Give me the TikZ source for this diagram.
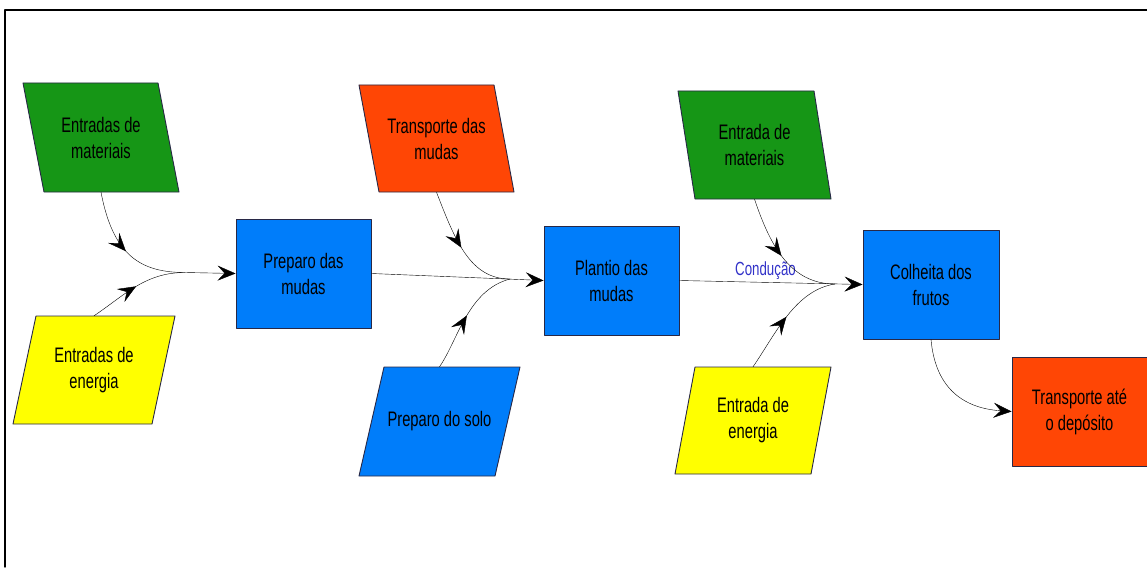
\documentclass[tikz,border=0pt]{standalone}
\usepackage{fontspec}
\setmainfont{Liberation Sans}[FakeStretch=0.7]
\usetikzlibrary{arrows.meta,decorations.markings}
\definecolor{verde}{RGB}{22,150,22}
\definecolor{amarelo}{RGB}{255,255,0}
\definecolor{azul}{RGB}{0,125,250}
\definecolor{laranja}{RGB}{255,70,5}
\definecolor{borda}{RGB}{40,40,70}
\definecolor{conducao}{RGB}{50,50,200}
\tikzset{
  caixa/.style={draw=borda, line width=0.9pt, minimum width=135pt, minimum height=109pt,
    inner sep=0pt, align=center, text=black},
  meio/.style={postaction={decorate}, decoration={markings,
    mark=at position 0.5 with {\arrow{Stealth[length=18pt,width=15pt,inset=7pt]}}}}
}
% paralelogramo: nome, x, y, largura, altura, desvio, cor, texto
\newcommand{\paralelo}[8]{%
  \filldraw[fill=#7, draw=borda, line width=0.9pt]
    (#2-#4/2-#6/2, #3-#5/2) -- (#2+#4/2-#6/2, #3-#5/2) --
    (#2+#4/2+#6/2, #3+#5/2) -- (#2-#4/2+#6/2, #3+#5/2) -- cycle;
  \node (#1) [minimum width=#4pt, minimum height=#5pt, inner sep=0pt, align=center] at (#2,#3) {#8};
}
\begin{document}
\begin{tikzpicture}[x=1pt, y=-1pt, font=\fontsize{21}{26}\selectfont, line join=round, line cap=round,
  >={Stealth[length=18pt,width=15pt,inset=7pt]}]
\useasboundingbox (0,0) rectangle (1147,567);
% moldura
\draw[line width=1.4pt] (5,567) -- (5,10) -- (1147,10);

% entradas
\paralelo{matA}{101}{137.5}{135}{109}{21}{verde}{Entradas de\\materiais}
\paralelo{eneA}{94}{370}{139}{108}{-23}{amarelo}{Entradas de\\energia}
\paralelo{trMudas}{436.5}{138.5}{135}{107}{20}{laranja}{Transporte das\\mudas}
\paralelo{solo}{439.5}{421.5}{136}{109}{-25}{azul}{Preparo do solo}
\paralelo{matB}{754.5}{145}{136}{108}{17}{verde}{Entrada de\\materiais}
\paralelo{eneB}{753}{420.5}{136}{107}{-20}{amarelo}{Entrada de\\energia}

% etapas
\node (prep) [caixa, fill=azul] at (303.5,273.5) {Preparo das\\mudas};
\node (plant) [caixa, fill=azul] at (611.5,280.5) {Plantio das\\mudas};
\node (colh) [caixa, fill=azul, minimum width=136pt] at (931,284.5) {Colheita dos\\frutos};
\node (trDep) [caixa, fill=laranja] at (1079.5,411.5) {Transporte até\\o depósito};

% pontos de junção
\coordinate (j1) at (185,272.5);
\coordinate (j2) at (510,279);
\coordinate (j3) at (835,284);

\draw[meio] (matA.south) .. controls (113,255) and (140,272.5) .. (j1);
\draw[meio] (eneA.north) .. controls (125,295) and (145,272.5) .. (j1);
\draw[->] (j1) -- (prep.west);

\draw[->] (prep.east) -- (plant.west);
\draw[meio] (trMudas.south) .. controls (455,240) and (470,279) .. (j2);
\draw[meio] (solo.north) .. controls (458,340) and (468,290) .. (j2);

\draw[->] (plant.east) -- node (cond) [pos=0.47, above=-1pt, text=conducao, font=\fontsize{19}{22}\selectfont] {Condução} (colh.west);
\draw[meio] (matB.south) .. controls (770,245) and (790,284) .. (j3);
\draw[meio] (eneB.north) .. controls (775,335) and (795,290) .. (j3);

\draw[->] (colh.south) .. controls (935,385) and (960,408) .. (trDep.west);
\end{tikzpicture}
\end{document}
